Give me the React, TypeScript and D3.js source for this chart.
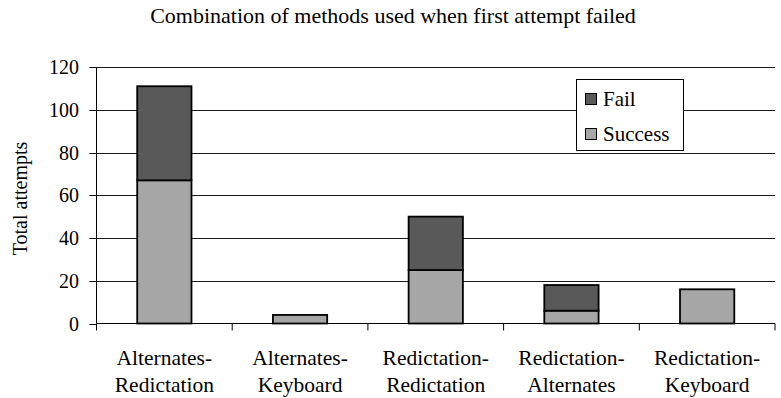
import React from "react";
import * as d3 from "d3";

const categories = [
  ["Alternates-", "Redictation"],
  ["Alternates-", "Keyboard"],
  ["Redictation-", "Redictation"],
  ["Redictation-", "Alternates"],
  ["Redictation-", "Keyboard"],
];
const successValues = [67, 4, 25, 6, 16];
const failValues = [44, 0, 25, 12, 0];
const yTicks = [0, 20, 40, 60, 80, 100, 120];
const seriesNames = ["Success", "Fail"];
const seriesColors = ["#a6a6a6", "#595959"];

const W = 781;
const H = 398;
const left = 96.5;
const right = 775;
const top = 67;
const bottom = 323.5;
const font = '"Liberation Serif"';

export default function App() {
  const keys = categories.map((_, i) => String(i));
  const x = d3.scaleBand().domain(keys).range([left, right]).paddingInner(0).paddingOuter(0);
  const y = d3.scaleLinear().domain([0, 120]).range([bottom, top]);
  const barW = x.bandwidth() * 0.4;

  const table = categories.map((_, i) => ({ key: String(i), Success: successValues[i], Fail: failValues[i] }));
  const stacked = d3.stack<any>().keys(seriesNames)(table);
  const txt = { fontFamily: font };

  return (
    <svg width={W} height={H} style={{ position: "absolute", left: 0, top: 0, background: "#fff", fontFamily: font }}>
      <text x={393} y={23} textAnchor="middle" style={txt} fontSize={22} fill="#000">
        Combination of methods used when first attempt failed
      </text>

      {/* horizontal gridlines */}
      {yTicks.filter((t) => t > 0).map((t) => (
        <line key={t} x1={left} x2={right} y1={Math.round(y(t)) + 0.5} y2={Math.round(y(t)) + 0.5} stroke="#1a1a1a" strokeWidth={1} />
      ))}

      {/* stacked bars */}
      {stacked.map((s, si) =>
        s.map((d, i) =>
          d[1] - d[0] > 0 ? (
            <rect
              key={`${si}-${i}`}
              x={x(String(i))! + (x.bandwidth() - barW) / 2}
              y={y(d[1])}
              width={barW}
              height={y(d[0]) - y(d[1])}
              fill={seriesColors[si]}
              stroke="#000"
              strokeWidth={1.8}
            />
          ) : null
        )
      )}

      {/* axes */}
      <line x1={left} x2={left} y1={top} y2={bottom} stroke="#000" />
      <line x1={left} x2={right} y1={bottom} y2={bottom} stroke="#000" />
      {yTicks.map((t) => (
        <line key={`t${t}`} x1={left - 7} x2={left} y1={Math.round(y(t)) + 0.5} y2={Math.round(y(t)) + 0.5} stroke="#000" />
      ))}
      {yTicks.map((t) => (
        <text key={`l${t}`} x={79} y={y(t) + 7} textAnchor="end" style={txt} fontSize={20} fill="#000">
          {String(t)}
        </text>
      ))}
      {keys.concat(["end"]).map((k, i) => {
        const xx = left + i * x.step();
        return <line key={k} x1={xx} x2={xx} y1={bottom} y2={bottom + 7} stroke="#000" />;
      })}
      {categories.map((c, i) => {
        const cx = x(String(i))! + x.bandwidth() / 2;
        return (
          <g key={i}>
            <text x={cx} y={365} textAnchor="middle" style={txt} fontSize={21.5} fill="#000">{c[0]}</text>
            <text x={cx} y={392} textAnchor="middle" style={txt} fontSize={21.5} fill="#000">{c[1]}</text>
          </g>
        );
      })}

      <text transform={`translate(27, 198.5) rotate(-90)`} textAnchor="middle" style={txt} fontSize={20} fill="#000">
        Total attempts
      </text>

      {/* legend */}
      <rect x={576.5} y={79.5} width={107} height={71} fill="#fff" stroke="#000" />
      {[1, 0].map((si, r) => (
        <rect key={`s${si}`} x={585.5} y={93.5 + r * 35} width={11} height={11} fill={seriesColors[si]} stroke="#000" />
      ))}
      {[1, 0].map((si, r) => (
        <text key={`n${si}`} x={603} y={105.5 + r * 35.5} style={txt} fontSize={21} fill="#000">
          {seriesNames[si]}
        </text>
      ))}
    </svg>
  );
}
